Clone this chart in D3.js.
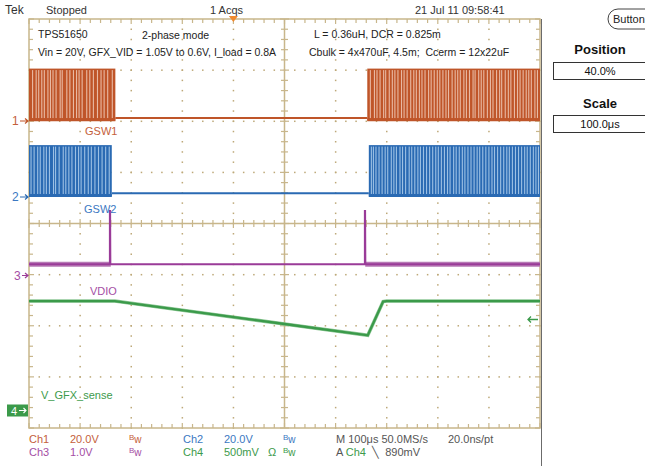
<!DOCTYPE html>
<meta charset="utf-8">
<head>
<style>
  body { margin: 0; background: #fff; }
  text { font-family: "Liberation Sans", Arial, sans-serif; }
</style>
</head>
<script src="https://d3js.org/d3.v7.min.js"></script>
<div id="scope"></div>
<script>
// time axis in microseconds, trigger at 0 (40% position, 100us/div)
var timeSpan = [-400, 600];

// channel settings (volts per div)
var chNames = ['Ch1', 'Ch2', 'Ch3', 'Ch4'];
var voltsPerDiv = [20, 20, 1.0, 0.5];
var chLabels = ['GSW1', 'GSW2', 'VDIO', 'V_GFX_sense'];

// GSW1 : switching bursts and idle level
var gsw1Bursts = [[-400, -231], [262, 600]];
var gsw1High = 20.5, gsw1Low = 0.1, gsw1Idle = 1.2;
var gsw1Gaps = [-393, -386, -381, -375, -370, -363, -358, -353, -347, -339, -335, -326, -320,
  -313, -307, -302, -296, -287, -281, -274, -266, -259, -253, -246, -237,
  268, 276, 281, 287, 294, 298, 305, 311, 316, 322, 329, 334, 340, 347, 353, 358, 364, 369,
  375, 382, 387, 393, 399, 404, 410, 416, 421, 428, 434, 439, 444, 451, 456, 462, 469, 473,
  480, 485, 490, 497, 503, 508, 515, 521, 525, 532, 538, 543, 550, 556, 561, 567, 573, 578,
  583, 590, 595];

// GSW2
var gsw2Bursts = [[-400, -238], [265, 600]];
var gsw2High = 20.3, gsw2Low = 0.2, gsw2Idle = 1.45;
var gsw2Gaps = [-396, -390, -383, -378, -371, -366, -360, -352, -348, -341, -333, -328, -322,
  -316, -309, -303, -298, -291, -284, -278, -271, -264, -257, -250, -243,
  270, 274, 279, 285, 291, 297, 302, 309, 314, 319, 326, 331, 337, 344, 349, 355, 361, 366,
  372, 378, 384, 390, 396, 401, 407, 413, 419, 424, 431, 436, 442, 448, 453, 459, 465, 471,
  477, 482, 488, 494, 500, 506, 511, 517, 523, 529, 535, 540, 546, 552, 558, 564, 570, 575,
  581, 587, 592, 597];

// VDIO
var vdioT = [-400, -241.5, -241.5, -241, 257.5, 257.5, 258, 600];
var vdioV = [0.22, 0.22, 1.28, 0.22, 0.22, 1.28, 0.22, 0.22];
var vdioNoisy = [[-400, -240], [258, 600]];

// V_GFX_sense
var gfxT = [-400, -232, 100, 263, 293, 300, 600];
var gfxV = [1.07, 1.07, 0.846, 0.735, 1.065, 1.07, 1.07];
var trigLevel = 0.89;

var width = 645, height = 466,
    pLeft = 29, pRight = 540, pTop = 19, pBottom = 428,
    colors = ['#bf5529', '#2a6ab3', '#9a3b98', '#3b9a4a'],
    lightColors = ['#e9b9a3', '#9cc0e4'],
    textColors = ['#c4603a', '#3b78c2', '#a44ea4', '#3d9a4b'],
    gridColor = '#c8b68b',
    gnd = [121, 197, 275.5, 410.5];

var svg = d3.select('#scope').append('svg')
    .attr('width', width)
    .attr('height', height);

var x = d3.scaleLinear().domain(timeSpan).range([pLeft, pRight]);
var gx = d3.scaleLinear().domain([0, 10]).range([pLeft, pRight]);
var gy = d3.scaleLinear().domain([0, 8]).range([pTop, pBottom]);
var divPx = gy(1) - gy(0);
var yCh = voltsPerDiv.map(function(v, i) {
    return d3.scaleLinear().domain([0, v]).range([gnd[i], gnd[i] - divPx]);
});

// ---- graticule ----
var grid = svg.append('g');
var minor = d3.range(0, 50.01, 1).map(function(d) { return d / 5; });
var minorV = d3.range(0, 40.01, 1).map(function(d) { return d / 5; });

// dotted interior lines
[1, 2, 3, 4, 6, 7, 8, 9].forEach(function(i) {
    grid.selectAll(null).data(minorV)
        .enter().append('rect')
        .attr('x', gx(i) - 0.7).attr('y', function(d) { return gy(d) - 0.7; })
        .attr('width', 1.5).attr('height', 1.5).attr('fill', '#bda878');
});
[1, 2, 3, 5, 6, 7].forEach(function(j) {
    grid.selectAll(null).data(minor)
        .enter().append('rect')
        .attr('x', function(d) { return gx(d) - 0.7; }).attr('y', gy(j) - 0.7)
        .attr('width', 1.5).attr('height', 1.5).attr('fill', '#bda878');
});

// border
grid.append('rect')
    .attr('x', pLeft).attr('y', pTop)
    .attr('width', pRight - pLeft).attr('height', pBottom - pTop)
    .attr('fill', 'none').attr('stroke', gridColor).attr('stroke-width', 1.5);

// center lines
grid.append('line').attr('x1', pLeft).attr('x2', pRight).attr('y1', gy(4)).attr('y2', gy(4))
    .attr('stroke', gridColor).attr('stroke-width', 1.5);
grid.append('line').attr('x1', gx(5)).attr('x2', gx(5)).attr('y1', pTop).attr('y2', pBottom)
    .attr('stroke', gridColor).attr('stroke-width', 1.5);

function tickLen(d) { return Math.abs(d - Math.round(d)) < 0.01 ? 5 : 4; }

// ticks along top, bottom and center line
grid.selectAll(null).data(minor).enter().append('line')
    .attr('x1', function(d) { return gx(d); }).attr('x2', function(d) { return gx(d); })
    .attr('y1', pTop).attr('y2', function(d) { return pTop + tickLen(d); })
    .attr('stroke', gridColor).attr('stroke-width', 1.2);
grid.selectAll(null).data(minor).enter().append('line')
    .attr('x1', function(d) { return gx(d); }).attr('x2', function(d) { return gx(d); })
    .attr('y1', pBottom).attr('y2', function(d) { return pBottom - tickLen(d); })
    .attr('stroke', gridColor).attr('stroke-width', 1.2);
grid.selectAll(null).data(minor).enter().append('line')
    .attr('x1', function(d) { return gx(d); }).attr('x2', function(d) { return gx(d); })
    .attr('y1', function(d) { return gy(4) - tickLen(d) + 0.5; })
    .attr('y2', function(d) { return gy(4) + tickLen(d) - 0.5; })
    .attr('stroke', gridColor).attr('stroke-width', 1.2);

// ticks along left, right and center line
grid.selectAll(null).data(minorV).enter().append('line')
    .attr('y1', function(d) { return gy(d); }).attr('y2', function(d) { return gy(d); })
    .attr('x1', pLeft).attr('x2', function(d) { return pLeft + tickLen(d); })
    .attr('stroke', gridColor).attr('stroke-width', 1.2);
grid.selectAll(null).data(minorV).enter().append('line')
    .attr('y1', function(d) { return gy(d); }).attr('y2', function(d) { return gy(d); })
    .attr('x1', pRight).attr('x2', function(d) { return pRight - tickLen(d); })
    .attr('stroke', gridColor).attr('stroke-width', 1.2);
grid.selectAll(null).data(minorV).enter().append('line')
    .attr('y1', function(d) { return gy(d); }).attr('y2', function(d) { return gy(d); })
    .attr('x1', function(d) { return gx(5) - tickLen(d) + 0.5; })
    .attr('x2', function(d) { return gx(5) + tickLen(d) - 0.5; })
    .attr('stroke', gridColor).attr('stroke-width', 1.2);

// side panel divider
svg.append('line').attr('x1', pRight + 1.5).attr('x2', pRight + 1.5).attr('y1', pTop).attr('y2', height)
    .attr('stroke', '#6b6b6b').attr('stroke-width', 1);

// ---- traces ----
var traces = svg.append('g');

function drawSwitch(i, bursts, high, low, idle, gaps) {
    var y = yCh[i];
    var g = traces.append('g');
    // idle level between bursts
    g.append('line')
        .attr('x1', x(bursts[0][1])).attr('x2', x(bursts[1][0]))
        .attr('y1', y(idle)).attr('y2', y(idle))
        .attr('stroke', colors[i]).attr('stroke-width', 2);
    g.selectAll(null).data(bursts).enter().append('rect')
        .attr('x', function(d) { return x(d[0]); })
        .attr('width', function(d) { return x(d[1]) - x(d[0]); })
        .attr('y', y(high)).attr('height', y(low) - y(high))
        .attr('fill', colors[i]);
    g.selectAll(null).data(gaps).enter().append('rect')
        .attr('x', function(d) { return x(d) - 0.55; })
        .attr('width', 1.1)
        .attr('y', y(high) + 1.5).attr('height', y(low) - y(high) - 4)
        .attr('fill', lightColors[i]);
    g.selectAll(null).data(bursts).enter().append('line')
        .attr('x1', function(d) { return x(d[0]); })
        .attr('x2', function(d) { return x(d[1]); })
        .attr('y1', y(low) - 1).attr('y2', y(low) - 1)
        .attr('stroke', colors[i]).attr('stroke-width', 3);
}

drawSwitch(0, gsw1Bursts, gsw1High, gsw1Low, gsw1Idle, gsw1Gaps);
drawSwitch(1, gsw2Bursts, gsw2High, gsw2Low, gsw2Idle, gsw2Gaps);

// VDIO noise band where the phases are switching
traces.selectAll(null).data(vdioNoisy).enter().append('rect')
    .attr('x', function(d) { return x(d[0]); })
    .attr('width', function(d) { return x(d[1]) - x(d[0]); })
    .attr('y', yCh[2](0.22) - 2.5).attr('height', 5)
    .attr('fill', '#b77ab5');

var line3 = d3.line().x(function(d) { return x(d[0]); }).y(function(d) { return yCh[2](d[1]); });
traces.append('path')
    .datum(vdioT.map(function(t, k) { return [t, vdioV[k]]; }))
    .attr('d', line3)
    .attr('fill', 'none').attr('stroke', colors[2]).attr('stroke-width', 2.2);

var line4 = d3.line().x(function(d) { return x(d[0]); }).y(function(d) { return yCh[3](d[1]); });
traces.append('path')
    .datum(gfxT.map(function(t, k) { return [t, gfxV[k]]; }))
    .attr('d', line4)
    .attr('fill', 'none').attr('stroke', '#8ec796').attr('stroke-width', 3.5);
traces.append('path')
    .datum(gfxT.map(function(t, k) { return [t, gfxV[k]]; }))
    .attr('d', line4)
    .attr('fill', 'none').attr('stroke', colors[3]).attr('stroke-width', 2.3);

// trace labels
var labelPos = [[85, 135], [84, 213], [90, 295], [41, 399]];
chLabels.forEach(function(l, i) {
    svg.append('text').attr('x', labelPos[i][0]).attr('y', labelPos[i][1])
        .attr('font-size', 11).attr('fill', textColors[i]).text(l);
});

// ground markers
[0, 1, 2].forEach(function(i) {
    var g = svg.append('g').attr('transform', 'translate(0,' + gnd[i] + ')');
    g.append('text').attr('x', i == 2 ? 14 : 12).attr('y', 4).attr('font-size', 12)
        .attr('fill', textColors[i]).text(i + 1);
    g.append('path').attr('d', i == 2 ? 'M22,0H28M25,-2.5L28,0L25,2.5' : 'M20,0H28M25,-2.5L28,0L25,2.5')
        .attr('fill', 'none').attr('stroke', colors[i]).attr('stroke-width', 1.2);
});
var m4 = svg.append('g').attr('transform', 'translate(0,' + gnd[3] + ')');
m4.append('rect').attr('x', 7).attr('y', -6).attr('width', 21).attr('height', 12).attr('fill', colors[3]);
m4.append('text').attr('x', 11).attr('y', 4).attr('font-size', 11).attr('fill', '#fff').text('4');
m4.append('path').attr('d', 'M19,0H26M23.5,-2.5L26,0L23.5,2.5')
    .attr('fill', 'none').attr('stroke', '#fff').attr('stroke-width', 1.1);

// trigger level arrow
var ty = yCh[3](trigLevel);
svg.append('path')
    .attr('d', 'M' + (pRight - 12) + ',' + ty + 'H' + (pRight - 2) +
        'M' + (pRight - 9) + ',' + (ty - 3) + 'L' + (pRight - 12) + ',' + ty +
        'L' + (pRight - 9) + ',' + (ty + 3))
    .attr('fill', 'none').attr('stroke', colors[3]).attr('stroke-width', 1.3);

// trigger position marker
svg.append('path')
    .attr('d', 'M' + (x(0) - 4.5) + ',16L' + (x(0) + 4.5) + ',16L' + x(0) + ',22Z')
    .attr('fill', '#f08a2e');

// ---- header and notes ----
var header = [['Tek', 5, 14, 12], ['Stopped', 46, 14, 11], ['1 Acqs', 210, 14, 11],
    ['21 Jul 11 09:58:41', 415, 14, 11]];
header.forEach(function(h) {
    svg.append('text').attr('x', h[1]).attr('y', h[2]).attr('font-size', h[3])
        .attr('fill', '#333').text(h[0]);
});

var notes = [['TPS51650', 38, 38], ['2-phase mode', 142, 39],
    ['Vin = 20V, GFX_VID = 1.05V to 0.6V, I_load = 0.8A', 38, 56],
    ['L = 0.36uH, DCR = 0.825m', 314, 38],
    ['Cbulk = 4x470uF, 4.5m;  Ccerm = 12x22uF', 309, 56]];
notes.forEach(function(n) {
    svg.append('text').attr('x', n[1]).attr('y', n[2]).attr('font-size', 10.5)
        .attr('fill', '#222').attr('xml:space', 'preserve').text(n[0]);
});

// ---- side panel ----
svg.append('rect').attr('x', 608).attr('y', 9).attr('width', 50).attr('height', 20)
    .attr('rx', 10).attr('fill', '#fff').attr('stroke', '#444').attr('stroke-width', 1);
svg.append('text').attr('x', 613).attr('y', 23).attr('font-size', 11).attr('fill', '#222').text('Button');

var panel = [['Position', 54, '40.0%', 62], ['Scale', 108, '100.0\u03bcs', 115]];
panel.forEach(function(p) {
    svg.append('text').attr('x', 600).attr('y', p[1]).attr('text-anchor', 'middle')
        .attr('font-size', 13).attr('font-weight', 'bold').attr('fill', '#111').text(p[0]);
    svg.append('rect').attr('x', 553.5).attr('y', p[3] + 0.5).attr('width', 100).attr('height', 17)
        .attr('fill', '#fff').attr('stroke', '#333').attr('stroke-width', 1);
    svg.append('text').attr('x', 600).attr('y', p[3] + 13).attr('text-anchor', 'middle')
        .attr('font-size', 11).attr('fill', '#111').text(p[2]);
});

// ---- status rows ----
var scaleText = ['20.0V', '20.0V', '1.0V', '500mV'];
var rowY = [443, 456];
var colX = [[29, 70, 129], [183, 224, 283]];
chNames.forEach(function(c, i) {
    var r = (i == 0 || i == 1) ? 0 : 1;
    var col = (i == 0 || i == 2) ? 0 : 1;
    var g = svg.append('g').attr('fill', textColors[i]).attr('font-size', 11);
    g.append('text').attr('x', colX[col][0]).attr('y', rowY[r]).text(c);
    g.append('text').attr('x', colX[col][1]).attr('y', rowY[r]).text(scaleText[i]);
    var bw = g.append('text').attr('x', colX[col][2]).attr('y', rowY[r]);
    bw.append('tspan').attr('font-size', 8).attr('dy', -3).text('B');
    bw.append('tspan').attr('font-size', 10).attr('dy', 3).text('w');
});
svg.append('text').attr('x', 268).attr('y', 456).attr('font-size', 11).attr('fill', textColors[3]).text('\u03a9');
svg.append('text').attr('x', 336).attr('y', 443).attr('font-size', 11).attr('fill', '#555')
    .text('M 100\u03bcs 50.0MS/s');
svg.append('text').attr('x', 448).attr('y', 443).attr('font-size', 11).attr('fill', '#555').text('20.0ns/pt');
var trig = svg.append('text').attr('x', 336).attr('y', 456).attr('font-size', 11).attr('fill', '#555')
    .attr('xml:space', 'preserve');
trig.append('tspan').text('A ');
trig.append('tspan').attr('fill', textColors[3]).text('Ch4');
trig.append('tspan').text('  \u2572  890mV');
</script>
